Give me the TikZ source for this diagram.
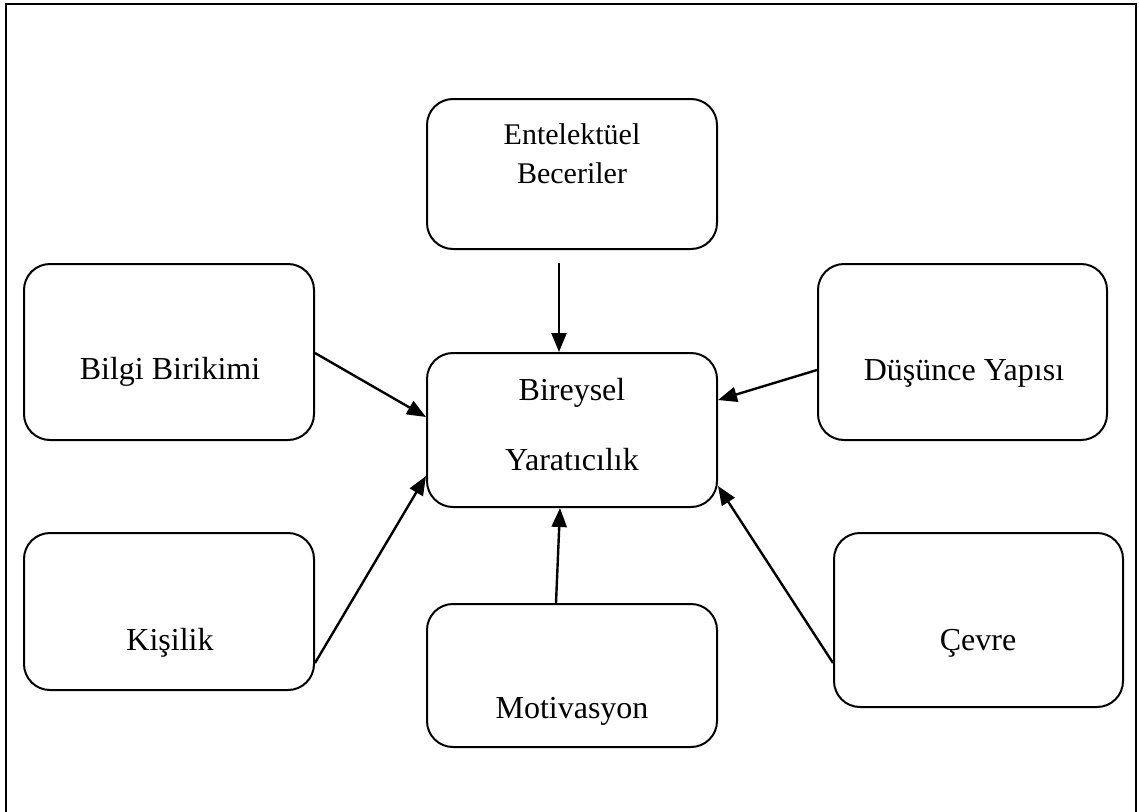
\documentclass[tikz,border=0pt]{standalone}
\usepackage{fontspec}
\setmainfont{Liberation Serif}
\usetikzlibrary{arrows.meta,calc}
\begin{document}
\begin{tikzpicture}[x=1pt,y=-1pt,
  box/.style={draw,line width=2pt,rounded corners=26pt,inner sep=0pt},
  lbl/.style={anchor=base,inner sep=0pt,font=\fontsize{32}{38}\selectfont},
  lblsmall/.style={anchor=base,inner sep=0pt,font=\fontsize{30}{36}\selectfont},
  arr/.style={line width=2.4pt,-{Triangle[length=19pt,width=15pt]}}]
\useasboundingbox (0,0) rectangle (1139,811);
% outer frame
\draw[line width=2.2pt] (6,815) -- (6,4) -- (1136,4) -- (1136,815);

% boxes
\node[box,minimum width=290pt,minimum height=150pt] (ent) at (572,174) {};
\node[box,minimum width=290pt,minimum height=154pt] (bir) at (572,430) {};
\node[box,minimum width=290pt,minimum height=143pt] (mot) at (572,675.5) {};
\node[box,minimum width=290pt,minimum height=176pt] (bilgi) at (169,352) {};
\node[box,minimum width=290pt,minimum height=157pt] (kis) at (169,611.5) {};
\node[box,minimum width=289pt,minimum height=176pt] (dus) at (962.5,352) {};
\node[box,minimum width=289pt,minimum height=174pt] (cev) at (978.5,620) {};

% labels
\node[lblsmall] (tEnt1) at (572,144) {Entelektüel};
\node[lblsmall] (tEnt2) at (572,183) {Beceriler};
\node[lbl] (tBir1) at (572,400) {Bireysel};
\node[lbl] (tBir2) at (572,470) {Yaratıcılık};
\node[lbl] (tMot) at (572,718) {Motivasyon};
\node[lbl] (tBilgi) at (170,379) {Bilgi Birikimi};
\node[lbl] (tKis) at (170,650) {Kişilik};
\node[lbl] (tDus) at (964,380) {Düşünce Yapısı};
\node[lbl] (tCev) at (978,650) {Çevre};

% connectors
\draw[arr] ($(ent.south)+(-13,13)$) -- ($(bir.north)+(-13,0)$);
\draw[arr] ($(bilgi.east)+(0,1)$) -- ($(bir.west)+(0,-13)$);
\draw[arr] ($(dus.west)+(0,18)$) -- ($(bir.east)+(0,-30)$);
\draw[arr] ($(kis.east)+(0,51.5)$) -- ($(bir.west)+(0,46)$);
\draw[arr] ($(mot.north)+(-16,0)$) -- ($(bir.south)+(-12,0)$);
\draw[arr] ($(cev.west)+(0,43)$) -- ($(bir.east)+(0,56)$);
\end{tikzpicture}
\end{document}
